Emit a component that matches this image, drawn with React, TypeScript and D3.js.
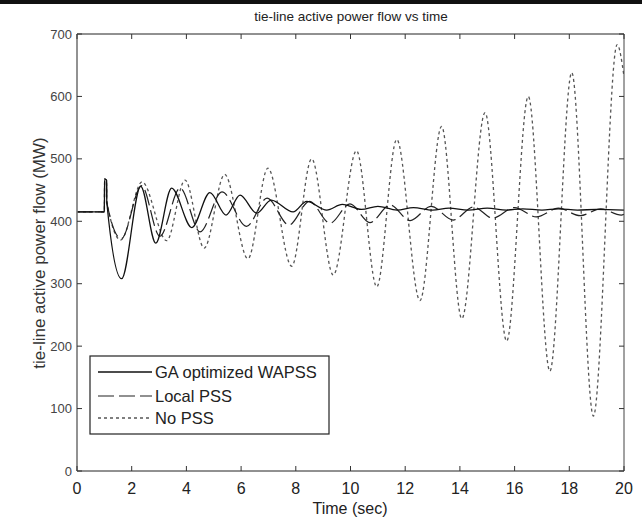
import React, { useEffect, useRef } from 'react';
import * as d3 from 'd3';

// tick values
const timeTicks = [0, 2, 4, 6, 8, 10, 12, 14, 16, 18, 20];
const powerTicks = [0, 100, 200, 300, 400, 500, 600, 700];

// [time (sec), power (MW)] (extrema of each swing)
const gaWapss: [number, number][] = [
    [0, 415], [1.0, 415], [1.01, 468], [1.08, 466], [1.09, 430], [1.63, 308], [2.33, 456],
    [2.88, 365], [3.46, 453], [4.2, 390], [4.86, 446], [5.45, 410], [5.96, 442], [6.57, 413],
    [7.1, 434], [7.9, 415], [8.4, 432], [9.13, 418], [9.7, 427], [10.4, 419], [11.0, 424],
    [11.7, 418], [12.3, 422], [13.0, 418], [13.6, 421], [14.3, 418], [15.0, 421], [15.7, 418],
    [16.3, 420], [17.0, 418], [17.6, 420], [18.3, 418], [19.0, 419], [20, 418],
];

const localPss: [number, number][] = [
    [0, 415], [1.0, 415], [1.01, 468], [1.08, 466], [1.09, 430], [1.62, 372], [2.36, 457],
    [3.03, 376], [3.77, 453], [4.5, 383], [5.3, 447], [6.2, 392], [6.95, 437], [7.75, 394],
    [8.5, 432], [9.25, 397], [9.98, 428], [10.71, 398], [11.45, 426], [12.18, 401], [12.95, 424],
    [13.75, 402], [14.5, 423], [15.2, 405], [16.0, 422], [16.8, 407], [17.6, 421], [18.4, 409],
    [19.15, 420], [19.9, 410], [20, 411],
];

const noPss: [number, number][] = [
    [0, 415], [1.0, 415], [1.01, 468], [1.08, 466], [1.09, 432], [1.6, 370], [2.38, 463],
    [3.28, 369], [3.95, 466], [4.65, 357], [5.4, 475], [6.25, 340], [6.98, 485], [7.85, 328],
    [8.58, 500], [9.37, 314], [10.22, 513], [10.96, 295], [11.69, 531], [12.54, 273], [13.33, 552],
    [14.07, 244], [14.92, 574], [15.71, 208], [16.5, 600], [17.29, 160], [18.09, 638], [18.88, 88],
    [19.75, 683], [20, 632],
];

const legendLabels = ['GA optimized WAPSS', 'Local PSS', 'No PSS'];

const FONT = '"Liberation Sans", Arial, sans-serif';

const App = () => {
    const svgRef = useRef<SVGSVGElement>(null);

    useEffect(() => {
        const svg = d3.select(svgRef.current);
        svg.selectAll('*').remove();

        const width = 642;
        const height = 519;
        const margin = { top: 34, right: 18, bottom: 48, left: 77 };

        const x = d3.scaleLinear().domain([0, 20]).range([margin.left, width - margin.right]);
        const y = d3.scaleLinear().domain([0, 700]).range([height - margin.bottom, margin.top]);

        // black strip across the top of the scan
        svg.append('rect').attr('x', 0).attr('y', 0).attr('width', width).attr('height', 4).attr('fill', '#111');

        svg.append('defs').append('clipPath').attr('id', 'plot-clip')
            .append('rect')
            .attr('x', x(0)).attr('y', y(700))
            .attr('width', x(20) - x(0)).attr('height', y(0) - y(700));

        const line = d3.line<[number, number]>()
            .x(d => x(d[0]))
            .y(d => y(d[1]))
            .curve(d3.curveMonotoneX);

        const plot = svg.append('g').attr('clip-path', 'url(#plot-clip)');

        const series = [
            { data: noPss, color: '#555', dash: '3,3', w: 1.3 },
            { data: localPss, color: '#222', dash: '16,5', w: 1.2 },
            { data: gaWapss, color: '#111', dash: null, w: 1.3 },
        ];

        series.forEach(s => {
            plot.append('path')
                .datum(s.data)
                .attr('d', line)
                .attr('fill', 'none')
                .attr('stroke', s.color)
                .attr('stroke-width', s.w)
                .attr('stroke-dasharray', s.dash);
        });

        // frame
        const x0 = x(0), x1 = x(20), y0 = y(0), y1 = y(700);
        svg.append('line').attr('x1', x0).attr('x2', x1).attr('y1', y1).attr('y2', y1).attr('stroke', '#222');
        svg.append('line').attr('x1', x0).attr('x2', x1).attr('y1', y0).attr('y2', y0).attr('stroke', '#222');
        svg.append('line').attr('x1', x1).attr('x2', x1).attr('y1', y1).attr('y2', y0).attr('stroke', '#444');
        svg.append('line').attr('x1', x0).attr('x2', x0).attr('y1', y1).attr('y2', y0).attr('stroke', '#777').attr('stroke-width', 1.6);

        // ticks, inward on all four sides
        const ticks = svg.append('g').attr('stroke', '#333');
        timeTicks.forEach(t => {
            ticks.append('line').attr('x1', x(t)).attr('x2', x(t)).attr('y1', y0).attr('y2', y0 - 5);
            ticks.append('line').attr('x1', x(t)).attr('x2', x(t)).attr('y1', y1).attr('y2', y1 + 5);
        });
        powerTicks.forEach(p => {
            ticks.append('line').attr('x1', x0).attr('x2', x0 + 5).attr('y1', y(p)).attr('y2', y(p));
            ticks.append('line').attr('x1', x1).attr('x2', x1 - 5).attr('y1', y(p)).attr('y2', y(p));
        });

        svg.selectAll('.xtick')
            .data(timeTicks)
            .enter()
            .append('text')
            .attr('class', 'xtick')
            .attr('x', d => x(d))
            .attr('y', 494)
            .attr('text-anchor', 'middle')
            .attr('font-family', FONT)
            .attr('font-size', 16)
            .attr('fill', '#222')
            .text(d => d);

        svg.selectAll('.ytick')
            .data(powerTicks)
            .enter()
            .append('text')
            .attr('class', 'ytick')
            .attr('x', 72)
            .attr('y', d => y(d))
            .attr('dy', '0.35em')
            .attr('text-anchor', 'end')
            .attr('font-family', FONT)
            .attr('font-size', 13)
            .attr('fill', '#444')
            .text(d => d);

        // title and axis labels
        svg.append('text')
            .attr('x', 351).attr('y', 21)
            .attr('text-anchor', 'middle')
            .attr('font-family', FONT).attr('font-size', 13.5).attr('fill', '#222')
            .text('tie-line active power flow vs time');

        svg.append('text')
            .attr('x', 350).attr('y', 514)
            .attr('text-anchor', 'middle')
            .attr('font-family', FONT).attr('font-size', 16).attr('fill', '#222')
            .text('Time (sec)');

        svg.append('text')
            .attr('transform', 'translate(45,253) rotate(-90)')
            .attr('text-anchor', 'middle')
            .attr('font-family', FONT).attr('font-size', 17).attr('fill', '#333')
            .text('tie-line active power flow (MW)');

        // legend
        const legend = svg.append('g');
        legend.append('rect')
            .attr('x', 90).attr('y', 356).attr('width', 239).attr('height', 78)
            .attr('fill', '#fff').attr('stroke', '#222').attr('stroke-width', 1.2);

        const rowY = [372, 396, 418];
        legendLabels.forEach((label, i) => {
            const s = series[2 - i];
            legend.append('line')
                .attr('x1', 98).attr('x2', 152).attr('y1', rowY[i]).attr('y2', rowY[i])
                .attr('stroke', s.color).attr('stroke-width', s.w)
                .attr('stroke-dasharray', s.dash);
            legend.append('text')
                .attr('x', 155).attr('y', rowY[i]).attr('dy', '0.35em')
                .attr('font-family', FONT).attr('font-size', 16.5).attr('fill', '#222')
                .text(label);
        });
    }, []);

    return (
        <svg
            ref={svgRef}
            width={642}
            height={519}
            style={{ position: 'absolute', left: 0, top: 0, background: '#fff' }}
        />
    );
};

export default App;
